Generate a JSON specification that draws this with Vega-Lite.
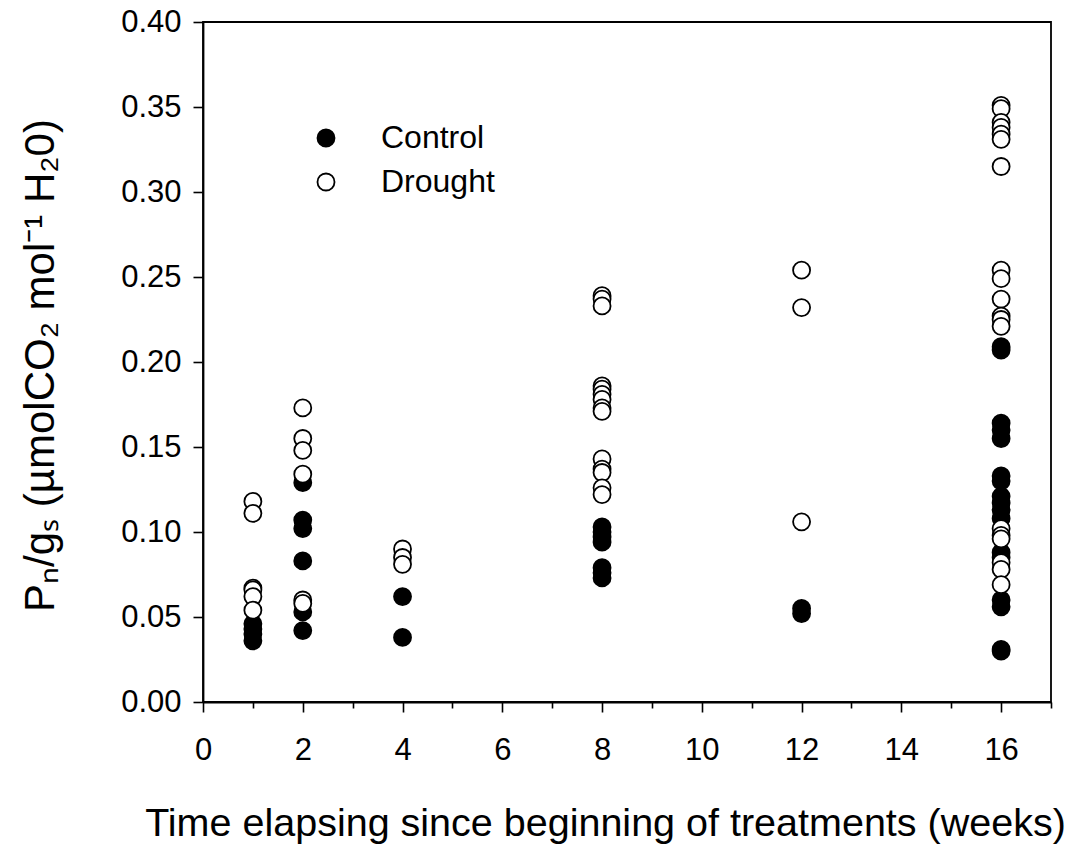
{
  "$schema": "https://vega.github.io/schema/vega-lite/v6.json",
  "width": 848,
  "height": 680,
  "autosize": "none",
  "padding": {"left": 203, "top": 22, "right": 31, "bottom": 145},
  "background": "white",
  "config": {
    "font": "Liberation Sans",
    "view": {"stroke": "black", "strokeWidth": 1.8},
    "axis": {"domainColor": "black", "domainWidth": 1.8, "tickColor": "black", "tickWidth": 1.6, "labelColor": "black", "titleColor": "black", "labelFont": "Liberation Sans", "titleFont": "Liberation Sans", "grid": false}
  },
  "data": {
    "values": [
      {"week": 1, "group": "Control", "ratio": 0.046},
      {"week": 1, "group": "Control", "ratio": 0.043},
      {"week": 1, "group": "Control", "ratio": 0.040},
      {"week": 1, "group": "Control", "ratio": 0.036},
      {"week": 2, "group": "Control", "ratio": 0.129},
      {"week": 2, "group": "Control", "ratio": 0.107},
      {"week": 2, "group": "Control", "ratio": 0.102},
      {"week": 2, "group": "Control", "ratio": 0.083},
      {"week": 2, "group": "Control", "ratio": 0.053},
      {"week": 2, "group": "Control", "ratio": 0.042},
      {"week": 4, "group": "Control", "ratio": 0.062},
      {"week": 4, "group": "Control", "ratio": 0.038},
      {"week": 8, "group": "Control", "ratio": 0.103},
      {"week": 8, "group": "Control", "ratio": 0.100},
      {"week": 8, "group": "Control", "ratio": 0.097},
      {"week": 8, "group": "Control", "ratio": 0.094},
      {"week": 8, "group": "Control", "ratio": 0.079},
      {"week": 8, "group": "Control", "ratio": 0.076},
      {"week": 8, "group": "Control", "ratio": 0.073},
      {"week": 12, "group": "Control", "ratio": 0.055},
      {"week": 12, "group": "Control", "ratio": 0.052},
      {"week": 16, "group": "Control", "ratio": 0.209},
      {"week": 16, "group": "Control", "ratio": 0.207},
      {"week": 16, "group": "Control", "ratio": 0.164},
      {"week": 16, "group": "Control", "ratio": 0.160},
      {"week": 16, "group": "Control", "ratio": 0.155},
      {"week": 16, "group": "Control", "ratio": 0.133},
      {"week": 16, "group": "Control", "ratio": 0.130},
      {"week": 16, "group": "Control", "ratio": 0.121},
      {"week": 16, "group": "Control", "ratio": 0.117},
      {"week": 16, "group": "Control", "ratio": 0.113},
      {"week": 16, "group": "Control", "ratio": 0.108},
      {"week": 16, "group": "Control", "ratio": 0.088},
      {"week": 16, "group": "Control", "ratio": 0.085},
      {"week": 16, "group": "Control", "ratio": 0.060},
      {"week": 16, "group": "Control", "ratio": 0.056},
      {"week": 16, "group": "Control", "ratio": 0.031},
      {"week": 16, "group": "Control", "ratio": 0.030},
      {"week": 1, "group": "Drought", "ratio": 0.118},
      {"week": 1, "group": "Drought", "ratio": 0.111},
      {"week": 1, "group": "Drought", "ratio": 0.067},
      {"week": 1, "group": "Drought", "ratio": 0.066},
      {"week": 1, "group": "Drought", "ratio": 0.062},
      {"week": 1, "group": "Drought", "ratio": 0.054},
      {"week": 2, "group": "Drought", "ratio": 0.173},
      {"week": 2, "group": "Drought", "ratio": 0.155},
      {"week": 2, "group": "Drought", "ratio": 0.148},
      {"week": 2, "group": "Drought", "ratio": 0.134},
      {"week": 2, "group": "Drought", "ratio": 0.060},
      {"week": 2, "group": "Drought", "ratio": 0.058},
      {"week": 4, "group": "Drought", "ratio": 0.090},
      {"week": 4, "group": "Drought", "ratio": 0.085},
      {"week": 4, "group": "Drought", "ratio": 0.081},
      {"week": 8, "group": "Drought", "ratio": 0.239},
      {"week": 8, "group": "Drought", "ratio": 0.237},
      {"week": 8, "group": "Drought", "ratio": 0.233},
      {"week": 8, "group": "Drought", "ratio": 0.186},
      {"week": 8, "group": "Drought", "ratio": 0.184},
      {"week": 8, "group": "Drought", "ratio": 0.181},
      {"week": 8, "group": "Drought", "ratio": 0.178},
      {"week": 8, "group": "Drought", "ratio": 0.173},
      {"week": 8, "group": "Drought", "ratio": 0.171},
      {"week": 8, "group": "Drought", "ratio": 0.143},
      {"week": 8, "group": "Drought", "ratio": 0.137},
      {"week": 8, "group": "Drought", "ratio": 0.135},
      {"week": 8, "group": "Drought", "ratio": 0.126},
      {"week": 8, "group": "Drought", "ratio": 0.122},
      {"week": 12, "group": "Drought", "ratio": 0.254},
      {"week": 12, "group": "Drought", "ratio": 0.232},
      {"week": 12, "group": "Drought", "ratio": 0.106},
      {"week": 16, "group": "Drought", "ratio": 0.351},
      {"week": 16, "group": "Drought", "ratio": 0.349},
      {"week": 16, "group": "Drought", "ratio": 0.341},
      {"week": 16, "group": "Drought", "ratio": 0.338},
      {"week": 16, "group": "Drought", "ratio": 0.334},
      {"week": 16, "group": "Drought", "ratio": 0.331},
      {"week": 16, "group": "Drought", "ratio": 0.315},
      {"week": 16, "group": "Drought", "ratio": 0.254},
      {"week": 16, "group": "Drought", "ratio": 0.249},
      {"week": 16, "group": "Drought", "ratio": 0.237},
      {"week": 16, "group": "Drought", "ratio": 0.227},
      {"week": 16, "group": "Drought", "ratio": 0.225},
      {"week": 16, "group": "Drought", "ratio": 0.221},
      {"week": 16, "group": "Drought", "ratio": 0.102},
      {"week": 16, "group": "Drought", "ratio": 0.098},
      {"week": 16, "group": "Drought", "ratio": 0.096},
      {"week": 16, "group": "Drought", "ratio": 0.082},
      {"week": 16, "group": "Drought", "ratio": 0.078},
      {"week": 16, "group": "Drought", "ratio": 0.069}
    ]
  },
  "mark": {"type": "point", "shape": "circle", "filled": false, "size": 290, "stroke": "black", "strokeWidth": 1.8, "opacity": 1},
  "encoding": {
    "x": {
      "field": "week", "type": "quantitative",
      "scale": {"domain": [0, 17], "nice": false, "zero": true},
      "axis": {
        "values": [0,1,2,3,4,5,6,7,8,9,10,11,12,13,14,15,16,17],
        "labelExpr": "datum.value % 2 === 0 && datum.value < 17 ? datum.label : ''",
        "tickSize": {"condition": {"test": "datum.value % 2 === 1", "value": 6}, "value": 10},
        "labelFontSize": 31, "labelPadding": 23, "labelFlush": false,
        "title": "Time elapsing since beginning of treatments (weeks)",
        "titleFontSize": 39.5, "titleFontWeight": "normal",
        "titleX": 402, "titleY": 121, "titleBaseline": "middle", "titleAnchor": "middle"
      }
    },
    "y": {
      "field": "ratio", "type": "quantitative",
      "scale": {"domain": [0, 0.4], "nice": false},
      "axis": {
        "values": [0, 0.05, 0.1, 0.15, 0.2, 0.25, 0.3, 0.35, 0.4],
        "format": ".2f", "tickSize": 10, "labelFontSize": 31, "labelPadding": 12,
        "title": "Pₙ/gₛ (µmolCO₂ mol⁻¹ H₂0)",
        "titleFontSize": 42, "titleFontWeight": "normal",
        "titleX": -163, "titleY": 343, "titleAngle": -90, "titleBaseline": "middle", "titleAnchor": "middle"
      }
    },
    "fill": {
      "field": "group", "type": "nominal",
      "scale": {"domain": ["Control", "Drought"], "range": ["black", "white"]},
      "legend": {
        "title": null, "orient": "none", "legendX": 107, "legendY": 100,
        "symbolType": "circle", "symbolSize": 290, "symbolStrokeColor": "black", "symbolStrokeWidth": 1.8,
        "labelFontSize": 32, "labelFont": "Liberation Sans", "labelColor": "black",
        "labelOffset": 39, "rowPadding": 12
      }
    }
  }
}
